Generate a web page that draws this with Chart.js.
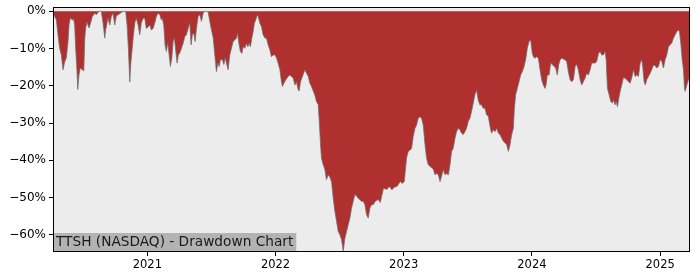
<!DOCTYPE html>
<html>
<head>
<meta charset="utf-8">
<script src="https://cdn.jsdelivr.net/npm/chart.js@4.4.1/dist/chart.umd.min.js"></script>
<style>
  html, body { margin: 0; padding: 0; background: #ffffff; }
  #wrap { width: 700px; height: 280px; }
</style>
</head>
<body>
<div id="wrap"><canvas id="ddChart" width="700" height="280"></canvas></div>
<script>
// Dates as decimal years
const dates = [
  2020.264, 2020.277, 2020.290, 2020.303, 2020.316, 2020.329, 2020.342, 2020.355, 2020.368, 2020.381,
  2020.389, 2020.399, 2020.415, 2020.426, 2020.433, 2020.441, 2020.451, 2020.457, 2020.467, 2020.477,
  2020.493, 2020.504, 2020.512, 2020.519, 2020.529, 2020.545, 2020.555, 2020.571, 2020.590, 2020.602,
  2020.623, 2020.641, 2020.654, 2020.668, 2020.675, 2020.693, 2020.707, 2020.719, 2020.732, 2020.746,
  2020.758, 2020.779, 2020.797, 2020.816, 2020.831, 2020.842, 2020.852, 2020.863, 2020.871, 2020.889,
  2020.902, 2020.914, 2020.928, 2020.941, 2020.953, 2020.967, 2020.980, 2020.992, 2021.006, 2021.019,
  2021.031, 2021.045, 2021.058, 2021.070, 2021.084, 2021.097, 2021.109, 2021.117, 2021.128, 2021.138,
  2021.148, 2021.159, 2021.170, 2021.180, 2021.191, 2021.201, 2021.211, 2021.222, 2021.232, 2021.242,
  2021.253, 2021.266, 2021.279, 2021.292, 2021.305, 2021.318, 2021.331, 2021.341, 2021.351, 2021.362,
  2021.373, 2021.383, 2021.396, 2021.409, 2021.422, 2021.435, 2021.448, 2021.461, 2021.474, 2021.487,
  2021.500, 2021.513, 2021.526, 2021.539, 2021.550, 2021.560, 2021.570, 2021.586, 2021.597, 2021.607,
  2021.617, 2021.630, 2021.643, 2021.656, 2021.669, 2021.682, 2021.695, 2021.703, 2021.716, 2021.726,
  2021.737, 2021.747, 2021.760, 2021.773, 2021.784, 2021.794, 2021.804, 2021.815, 2021.825, 2021.835,
  2021.846, 2021.857, 2021.864, 2021.878, 2021.890, 2021.903, 2021.917, 2021.929, 2021.942, 2021.956,
  2021.968, 2021.981, 2021.995, 2022.007, 2022.020, 2022.034, 2022.046, 2022.054, 2022.065, 2022.080,
  2022.098, 2022.112, 2022.124, 2022.138, 2022.151, 2022.163, 2022.177, 2022.184, 2022.195, 2022.210,
  2022.229, 2022.241, 2022.255, 2022.268, 2022.280, 2022.294, 2022.307, 2022.319, 2022.333, 2022.341,
  2022.351, 2022.358, 2022.372, 2022.385, 2022.397, 2022.411, 2022.424, 2022.437, 2022.450, 2022.463,
  2022.476, 2022.489, 2022.502, 2022.515, 2022.528, 2022.541, 2022.554, 2022.567, 2022.580, 2022.593,
  2022.606, 2022.619, 2022.632, 2022.645, 2022.658, 2022.671, 2022.684, 2022.697, 2022.710, 2022.723,
  2022.736, 2022.749, 2022.762, 2022.778, 2022.801, 2022.817, 2022.842, 2022.869, 2022.887, 2022.908,
  2022.926, 2022.947, 2022.973, 2022.988, 2023.004, 2023.022, 2023.035, 2023.051, 2023.061, 2023.074,
  2023.088, 2023.100, 2023.113, 2023.127, 2023.139, 2023.152, 2023.166, 2023.178, 2023.191, 2023.217,
  2023.230, 2023.244, 2023.256, 2023.270, 2023.283, 2023.295, 2023.308, 2023.322, 2023.334, 2023.348,
  2023.361, 2023.373, 2023.386, 2023.400, 2023.412, 2023.425, 2023.438, 2023.451, 2023.464, 2023.477,
  2023.490, 2023.503, 2023.516, 2023.529, 2023.542, 2023.555, 2023.568, 2023.581, 2023.594, 2023.607,
  2023.620, 2023.634, 2023.646, 2023.660, 2023.673, 2023.685, 2023.699, 2023.712, 2023.725, 2023.738,
  2023.751, 2023.764, 2023.777, 2023.790, 2023.803, 2023.816, 2023.829, 2023.842, 2023.855, 2023.863,
  2023.873, 2023.886, 2023.899, 2023.912, 2023.925, 2023.938, 2023.951, 2023.964, 2023.977, 2023.990,
  2024.003, 2024.011, 2024.024, 2024.037, 2024.050, 2024.063, 2024.076, 2024.089, 2024.102, 2024.110,
  2024.120, 2024.134, 2024.146, 2024.159, 2024.173, 2024.185, 2024.198, 2024.209, 2024.220, 2024.232,
  2024.245, 2024.259, 2024.271, 2024.284, 2024.298, 2024.310, 2024.323, 2024.337, 2024.349, 2024.362,
  2024.376, 2024.388, 2024.401, 2024.415, 2024.427, 2024.440, 2024.454, 2024.466, 2024.480, 2024.493,
  2024.505, 2024.519, 2024.532, 2024.544, 2024.558, 2024.571, 2024.579, 2024.589, 2024.602, 2024.615,
  2024.628, 2024.636, 2024.649, 2024.657, 2024.667, 2024.677, 2024.688, 2024.700, 2024.714, 2024.727,
  2024.739, 2024.753, 2024.766, 2024.778, 2024.792, 2024.805, 2024.818, 2024.831, 2024.844, 2024.856,
  2024.864, 2024.875, 2024.885, 2024.895, 2024.909, 2024.922, 2024.934, 2024.948, 2024.961, 2024.973,
  2024.987, 2025.000, 2025.013, 2025.026, 2025.039, 2025.052, 2025.065, 2025.078, 2025.091, 2025.104,
  2025.117, 2025.130, 2025.143, 2025.151, 2025.161, 2025.172, 2025.182, 2025.190, 2025.195, 2025.208,
  2025.221, 2025.233
];

// Drawdown in percent
const drawdown = [
  -0.5, -1.4, -2.3, -6.3, -10, -11.7, -15.7, -13.6, -12.5, -8.2,
  -3.7, -1.8, -2.3, -2.3, -3.7, -10, -16, -21, -17, -15.2,
  -15.7, -16, -7.2, -4.5, -2.9, -4.5, -3.4, -1.4, -0.5, -0.9,
  0, 0, -3.1, -7.2, -5, -1.8, -3.7, -1.4, -0.5, -3.7,
  -1.2, -0.8, -0.3, 0, 0, -3.7, -10, -19, -14, -7.2,
  -3.1, -1.9, -3.7, -6.3, -3.1, -1.9, -1.9, -4.6, -4.2, -3.7,
  -5, -4.6, -3.1, -1.4, -0.5, -0.9, -2.3, -1.9, -3.7, -9,
  -10.8, -8.5, -11.7, -14.8, -12.5, -8.1, -7.2, -10.8, -13.9, -11.7,
  -11.2, -9.9, -8.6, -6.8, -6.3, -4.6, -3.1, -9, -6.3, -5.9,
  -8.1, -4.6, -1.4, -0.9, -2.7, -0.5, 0, 0, -0.2, -2.7,
  -5, -7, -11.7, -16.2, -13.9, -14.8, -13, -13, -14.3, -12.5,
  -13.9, -15.7, -11.7, -9.9, -8.1, -7.7, -7.2, -5.9, -9, -10.8,
  -11.3, -9.5, -9.9, -8.6, -9.5, -8.6, -9.5, -7.2, -5.5, -3.2,
  -2.3, -1, -1.4, -3.2, -4.1, -6.3, -7.2, -7.2, -9, -10.4,
  -12.2, -11.7, -11.7, -12.5, -13.9, -15.7, -18.9, -20.2, -19.3, -18.4,
  -17.5, -17.1, -17.5, -18, -19.8, -18.9, -21.1, -21.4, -18.9, -17.5,
  -15.7, -16.6, -17.5, -19.3, -20.2, -21.4, -22.5, -24.2, -25.1, -29.6,
  -35.8, -39.4, -41.2, -42.5, -45.2, -43.9, -44.5, -45.8, -50.2, -53.7,
  -56.4, -59.1, -60, -61.3, -64.4, -60.9, -59.1, -57.3, -55.5, -52.8,
  -51, -49.2, -49.6, -50.2, -50.6, -51, -51, -51.9, -54.6, -55.5,
  -52.8, -51.9, -51.9, -51, -50.5, -51.3, -47.5, -47.8, -47, -47.9,
  -47.2, -47, -45.7, -46.2, -45.7, -39.4, -37.6, -37.2, -36.8, -33.6,
  -31.4, -30.5, -28.7, -28.3, -28.7, -30.5, -35.8, -39.4, -41.2, -42,
  -42.3, -43.9, -43.5, -43.9, -45.7, -44.3, -42.5, -43.9, -43.5, -43.9,
  -41.2, -37.6, -36.8, -34, -32.3, -31.4, -31.8, -32.7, -33.1, -32.3,
  -31.4, -29.6, -28.7, -26.9, -24.7, -22.4, -21.1, -23.8, -25.1, -25.1,
  -26, -26, -27.8, -28.2, -30.9, -32.7, -31.8, -32.3, -31.4, -32.7,
  -33.1, -34, -34.9, -35.3, -35.8, -37.6, -35.8, -33.1, -31.4, -26,
  -22.4, -20.7, -18.9, -17.1, -16.2, -14.9, -13, -9.9, -8.1, -7.7,
  -11.3, -12.2, -12.6, -12.2, -12.6, -15.7, -18.4, -19.8, -20.7, -19.8,
  -17.1, -17.1, -13.9, -14.3, -14.8, -15.2, -17.1, -14.3, -13, -12.6,
  -12.8, -13, -13.5, -16.2, -18.4, -18.9, -18.4, -14.8, -14.3, -15.7,
  -18.4, -19.8, -18.9, -17.9, -16.6, -17.1, -15.7, -13.9, -13.9, -13.9,
  -13.5, -11.3, -10.8, -11.7, -11.7, -10.8, -13, -20.7, -22.4, -24.2,
  -24.6, -23.8, -25.1, -24.2, -25.6, -23.5, -21.5, -19.8, -17.8, -18,
  -18.4, -18.9, -19.3, -17.9, -15.7, -17.5, -17.1, -17.5, -13.9, -13,
  -14.8, -18.9, -19.8, -18.4, -17.5, -16.6, -15.7, -14.4, -14.6, -15.2,
  -14.8, -13, -13.5, -15.2, -13, -11.7, -9.5, -9, -8.5, -7.2,
  -6.3, -5.5, -5, -5.5, -8.5, -13, -15.7, -20.7, -21.5, -19.8,
  -18.4, -18
];

// Tick positions
const yearTicks = [2021, 2022, 2023, 2024, 2025];
const pctTicks = [0, -10, -20, -30, -40, -50, -60];

const chartTitle = 'TTSH (NASDAQ) - Drawdown Chart';

const points = dates.map((d, i) => ({ x: d, y: drawdown[i] }));

// Plot background, frame and the label box
const framePlugin = {
  id: 'frame',
  beforeDraw(chart) {
    const a = chart.chartArea;
    const ctx = chart.ctx;
    ctx.save();
    ctx.fillStyle = '#ececec';
    ctx.fillRect(a.left, a.top, a.right - a.left, a.bottom - a.top);
    ctx.restore();
  },
  afterDraw(chart) {
    const a = chart.chartArea;
    const ctx = chart.ctx;
    ctx.save();
    ctx.font = '13.7px "DejaVu Sans"';
    const w = ctx.measureText(chartTitle).width;
    ctx.fillStyle = '#b3b3b3';
    ctx.fillRect(a.left, a.bottom - 19, w + 6, 19);
    ctx.fillStyle = '#1a1a1a';
    ctx.textBaseline = 'middle';
    ctx.fillText(chartTitle, a.left + 3, a.bottom - 9.5);
    ctx.strokeStyle = '#000000';
    ctx.lineWidth = 1;
    ctx.strokeRect(Math.round(a.left) + 0.5, Math.round(a.top) + 0.5,
      Math.round(a.right - a.left) - 1, Math.round(a.bottom - a.top) - 1);
    ctx.restore();
  }
};

const ctx = document.getElementById('ddChart').getContext('2d');
new Chart(ctx, {
  type: 'line',
  data: {
    datasets: [{
      data: points,
      borderColor: 'rgba(110,110,110,0.75)',
      borderWidth: 1,
      backgroundColor: '#b03030',
      fill: 'origin',
      pointRadius: 0,
      tension: 0
    }]
  },
  options: {
    responsive: false,
    animation: false,
    events: [],
    layout: { padding: { top: 7, right: 10, left: 0, bottom: 0 } },
    plugins: {
      legend: { display: false },
      tooltip: { enabled: false }
    },
    scales: {
      x: {
        type: 'linear',
        min: dates[0],
        max: dates[dates.length - 1],
        afterBuildTicks: (s) => { s.ticks = yearTicks.map(v => ({ value: v })); },
        afterFit: (s) => { s.height = 28; s.paddingLeft = 0; s.paddingRight = 0; },
        grid: { drawOnChartArea: false, drawTicks: true, tickLength: 4, tickColor: '#000' },
        border: { display: false },
        ticks: {
          color: '#000',
          padding: 2,
          maxRotation: 0,
          font: { family: 'DejaVu Sans', size: 11.5 },
          callback: (v) => String(v)
        }
      },
      y: {
        min: -64.6,
        max: 1.15,
        afterBuildTicks: (s) => { s.ticks = pctTicks.map(v => ({ value: v })); },
        afterFit: (s) => { s.width = 53; s.paddingTop = 0; s.paddingBottom = 0; },
        grid: { drawOnChartArea: false, drawTicks: true, tickLength: 4, tickColor: '#000' },
        border: { display: false },
        ticks: {
          color: '#000',
          padding: 3,
          font: { family: 'DejaVu Sans', size: 12 },
          callback: (v) => v === 0 ? '0%' : '\u2212' + Math.abs(v) + '%'
        }
      }
    }
  },
  plugins: [framePlugin]
});
</script>
</body>
</html>
